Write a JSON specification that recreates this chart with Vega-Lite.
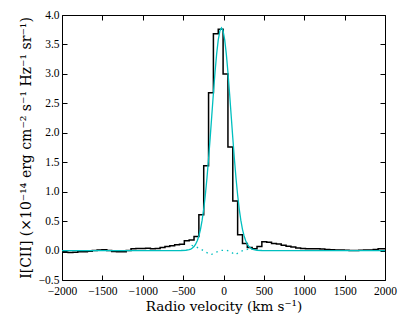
{
  "$schema": "https://vega.github.io/schema/vega-lite/v6.json",
  "width": 323,
  "height": 265,
  "autosize": "none",
  "padding": {"left": 62, "top": 15, "right": 22, "bottom": 46},
  "background": "white",
  "config": {
    "view": {"stroke": "black", "strokeWidth": 1},
    "font": "Liberation Serif",
    "axis": {
      "domain": false,
      "grid": false,
      "tickColor": "black",
      "tickSize": -5,
      "tickWidth": 1,
      "labelFont": "Liberation Serif",
      "labelFontSize": 11.5,
      "labelColor": "black",
      "labelOverlap": false,
      "labelFlush": false,
      "titleFont": "DejaVu Serif",
      "titleFontSize": 13.5,
      "titleFontWeight": "normal",
      "titleColor": "black"
    }
  },
  "datasets": {
    "spec": [
      {"v": -2015, "f": -0.03}, {"v": -1955, "f": -0.03}, {"v": -1895, "f": -0.035}, {"v": -1835, "f": -0.03},
      {"v": -1775, "f": -0.02}, {"v": -1715, "f": -0.02}, {"v": -1655, "f": -0.01}, {"v": -1595, "f": 0.0},
      {"v": -1535, "f": 0.01}, {"v": -1475, "f": 0.015}, {"v": -1415, "f": 0.0}, {"v": -1355, "f": -0.015},
      {"v": -1295, "f": -0.02}, {"v": -1235, "f": -0.02}, {"v": -1175, "f": 0.0}, {"v": -1115, "f": 0.03},
      {"v": -1055, "f": 0.035}, {"v": -995, "f": 0.035}, {"v": -935, "f": 0.04}, {"v": -875, "f": 0.03},
      {"v": -815, "f": 0.035}, {"v": -755, "f": 0.05}, {"v": -695, "f": 0.07}, {"v": -635, "f": 0.08},
      {"v": -575, "f": 0.1}, {"v": -515, "f": 0.105}, {"v": -455, "f": 0.165}, {"v": -395, "f": 0.18},
      {"v": -335, "f": 0.24}, {"v": -275, "f": 0.61}, {"v": -215, "f": 1.44}, {"v": -155, "f": 2.68},
      {"v": -95, "f": 3.68}, {"v": -35, "f": 3.76}, {"v": 25, "f": 3.0}, {"v": 85, "f": 1.76},
      {"v": 145, "f": 0.84}, {"v": 205, "f": 0.27}, {"v": 265, "f": 0.12}, {"v": 325, "f": 0.05},
      {"v": 385, "f": 0.03}, {"v": 445, "f": 0.07}, {"v": 505, "f": 0.15}, {"v": 565, "f": 0.14},
      {"v": 625, "f": 0.12}, {"v": 685, "f": 0.11}, {"v": 745, "f": 0.09}, {"v": 805, "f": 0.075},
      {"v": 865, "f": 0.06}, {"v": 925, "f": 0.045}, {"v": 985, "f": 0.035}, {"v": 1045, "f": 0.03},
      {"v": 1105, "f": 0.03}, {"v": 1165, "f": 0.03}, {"v": 1225, "f": 0.025}, {"v": 1285, "f": 0.02},
      {"v": 1345, "f": 0.015}, {"v": 1405, "f": 0.01}, {"v": 1465, "f": 0.01}, {"v": 1525, "f": 0.005},
      {"v": 1585, "f": 0.0}, {"v": 1645, "f": 0.0}, {"v": 1705, "f": 0.005}, {"v": 1765, "f": 0.01},
      {"v": 1825, "f": 0.01}, {"v": 1885, "f": 0.02}, {"v": 1945, "f": 0.03}, {"v": 2005, "f": 0.03}
    ],
    "gauss": [
      {"v": -2000, "f": 0}, {"v": -1000, "f": 0}, {"v": -525, "f": 0.001}, {"v": -465, "f": 0.005},
      {"v": -425, "f": 0.015}, {"v": -405, "f": 0.025}, {"v": -385, "f": 0.042}, {"v": -365, "f": 0.068},
      {"v": -345, "f": 0.108}, {"v": -325, "f": 0.166}, {"v": -305, "f": 0.248}, {"v": -285, "f": 0.361},
      {"v": -265, "f": 0.511}, {"v": -245, "f": 0.704}, {"v": -225, "f": 0.943}, {"v": -205, "f": 1.227},
      {"v": -185, "f": 1.554}, {"v": -165, "f": 1.914}, {"v": -145, "f": 2.293}, {"v": -125, "f": 2.671},
      {"v": -105, "f": 3.027}, {"v": -85, "f": 3.336}, {"v": -65, "f": 3.576}, {"v": -45, "f": 3.728},
      {"v": -25, "f": 3.78}, {"v": -5, "f": 3.728}, {"v": 15, "f": 3.576}, {"v": 35, "f": 3.336},
      {"v": 55, "f": 3.027}, {"v": 75, "f": 2.671}, {"v": 95, "f": 2.293}, {"v": 115, "f": 1.914},
      {"v": 135, "f": 1.554}, {"v": 155, "f": 1.227}, {"v": 175, "f": 0.943}, {"v": 195, "f": 0.704},
      {"v": 215, "f": 0.511}, {"v": 235, "f": 0.361}, {"v": 255, "f": 0.248}, {"v": 275, "f": 0.166},
      {"v": 295, "f": 0.108}, {"v": 315, "f": 0.068}, {"v": 335, "f": 0.042}, {"v": 355, "f": 0.025},
      {"v": 375, "f": 0.015}, {"v": 415, "f": 0.005}, {"v": 475, "f": 0.001}, {"v": 1000, "f": 0},
      {"v": 2000, "f": 0}
    ],
    "resid": [
      {"v": -395, "f": 0.09}, {"v": -335, "f": 0.06}, {"v": -275, "f": 0.02}, {"v": -215, "f": -0.03},
      {"v": -155, "f": -0.07}, {"v": -95, "f": -0.03}, {"v": -35, "f": 0.0}, {"v": 25, "f": 0.01},
      {"v": 85, "f": -0.02}, {"v": 145, "f": -0.07}, {"v": 205, "f": -0.02}, {"v": 265, "f": 0.01},
      {"v": 325, "f": 0.03}
    ]
  },
  "layer": [
    {
      "data": {"name": "spec"},
      "mark": {"type": "line", "interpolate": "step", "color": "black", "strokeWidth": 1.5, "clip": true},
      "encoding": {
        "x": {
          "field": "v", "type": "quantitative",
          "scale": {"domain": [-2000, 2000], "nice": false, "zero": false},
          "axis": {"orient": "bottom", "values": [-2000, -1500, -1000, -500, 0, 500, 1000, 1500, 2000], "format": "d", "labelFont": "Liberation Serif", "labelFontSize": 11.5, "labelPadding": 10, "labelFlush": false, "labelOverlap": false, "title": "Radio velocity (km s⁻¹)", "titlePadding": 3}
        },
        "y": {
          "field": "f", "type": "quantitative",
          "scale": {"domain": [-0.5, 4.0], "nice": false, "zero": false},
          "axis": {"orient": "left", "values": [-0.5, 0, 0.5, 1, 1.5, 2, 2.5, 3, 3.5, 4], "format": ".1f", "labelFont": "Liberation Serif", "labelFontSize": 11.5, "labelPadding": 8, "labelFlush": false, "labelOverlap": false, "title": "I[CII] (×10⁻¹⁴ erg cm⁻² s⁻¹ Hz⁻¹ sr⁻¹)", "titleFontSize": 14, "titlePadding": 5}
        }
      }
    },
    {
      "data": {"name": "gauss"},
      "mark": {"type": "line", "color": "#00bfbf", "strokeWidth": 1.3, "clip": true},
      "encoding": {
        "x": {"field": "v", "type": "quantitative", "axis": {"orient": "top", "values": [-2000, -1500, -1000, -500, 0, 500, 1000, 1500, 2000], "labels": false, "title": null}},
        "y": {"field": "f", "type": "quantitative", "axis": {"orient": "right", "values": [-0.5, 0, 0.5, 1, 1.5, 2, 2.5, 3, 3.5, 4], "labels": false, "title": null}}
      }
    },
    {
      "data": {"name": "resid"},
      "mark": {"type": "line", "color": "#00bfbf", "strokeWidth": 1.3, "strokeDash": [1.5, 4], "clip": true},
      "encoding": {
        "x": {"field": "v", "type": "quantitative", "axis": null},
        "y": {"field": "f", "type": "quantitative", "axis": null}
      }
    }
  ],
  "resolve": {"axis": {"x": "independent", "y": "independent"}}
}
